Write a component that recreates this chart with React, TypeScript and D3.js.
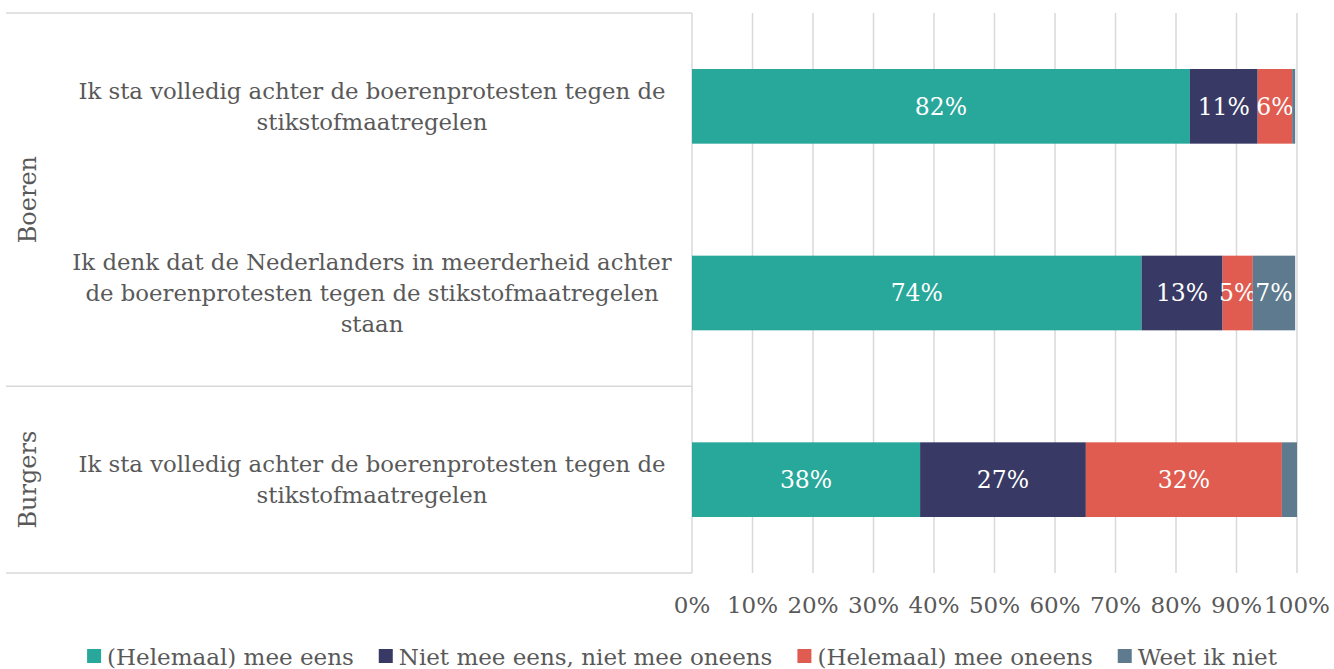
import React, { useEffect, useRef } from "react";
import * as d3 from "d3";

const groups = ["Boeren", "Boeren", "Burgers"];
const categoryLines = [
  ["Ik sta volledig achter de boerenprotesten tegen de", "stikstofmaatregelen"],
  ["Ik denk dat de Nederlanders in meerderheid achter", "de boerenprotesten tegen de stikstofmaatregelen", "staan"],
  ["Ik sta volledig achter de boerenprotesten tegen de", "stikstofmaatregelen"],
];
const seriesNames = ["(Helemaal) mee eens", "Niet mee eens, niet mee oneens", "(Helemaal) mee oneens", "Weet ik niet"];
const eens = [82.3, 74.3, 37.7];
const neutraal = [11.2, 13.4, 27.4];
const oneens = [5.7, 5.0, 32.4];
const weetNiet = [0.5, 7.0, 2.5];
const tickValues = [0, 10, 20, 30, 40, 50, 60, 70, 80, 90, 100];
const colors = ["#28a79b", "#383a65", "#e05c51", "#5d7a8e"];

const W = 1334;
const H = 669;
const FONT = "'DejaVu Serif', serif";
const TEXT = "#595959";
const GRID = "#d9d9d9";

export default function App() {
  const ref = useRef<SVGSVGElement>(null);
  useEffect(() => {
    const svg = d3.select(ref.current);
    svg.selectAll("*").remove();

    const left = 692, right = 1297, top = 13, bottom = 573, frameLeft = 6;
    const x = d3.scaleLinear().domain([0, 100]).range([left, right]);
    const idx = d3.range(categoryLines.length).map(String);
    const y = d3.scaleBand().domain(idx).range([top, bottom]).paddingInner(0.6).paddingOuter(0.3);
    const step = y.step();

    // gridlines
    svg.append("g").selectAll("line").data(tickValues.slice(1)).join("line")
      .attr("x1", (d) => x(d)).attr("x2", (d) => x(d))
      .attr("y1", top).attr("y2", bottom)
      .attr("stroke", GRID).attr("stroke-width", 1.5);

    // frame on the left (category table)
    const frame = svg.append("g").attr("stroke", GRID).attr("stroke-width", 1.5);
    const sepYs = [top, top + 2 * step, bottom];
    sepYs.forEach((yy) => frame.append("line").attr("x1", frameLeft).attr("x2", left).attr("y1", yy).attr("y2", yy));
    frame.append("line").attr("x1", left).attr("x2", left).attr("y1", top).attr("y2", bottom);

    // stacked bars
    const rows = idx.map((k, i) => ({ k, vals: [eens[i], neutraal[i], oneens[i], weetNiet[i]] }));
    const stackKeys = [0, 1, 2, 3];
    const stacked = d3.stack<any, number>().keys(stackKeys as any).value((d: any, key: any) => d.vals[key])(rows as any);
    const barG = svg.append("g");
    stacked.forEach((s, si) => {
      const g = barG.append("g");
      g.selectAll("rect").data(s).join("rect")
        .attr("x", (d: any) => x(d[0]))
        .attr("width", (d: any) => x(d[1]) - x(d[0]))
        .attr("y", (d: any) => y(d.data.k)!)
        .attr("height", y.bandwidth())
        .attr("fill", colors[si]);
      g.selectAll("text").data(s.filter((d: any) => d[1] - d[0] >= 3)).join("text")
        .attr("x", (d: any) => (x(d[0]) + x(d[1])) / 2)
        .attr("y", (d: any) => y(d.data.k)! + y.bandwidth() / 2)
        .attr("dy", "0.35em")
        .attr("text-anchor", "middle")
        .attr("fill", "#ffffff")
        .attr("font-family", FONT).attr("font-size", 23.5)
        .text((d: any) => `${Math.round(d[1] - d[0])}%`);
    });

    // category labels
    const lineH = 31;
    categoryLines.forEach((lines, i) => {
      const cy = y(String(i))! + y.bandwidth() / 2;
      const t = svg.append("text").attr("text-anchor", "middle")
        .attr("font-family", FONT).attr("font-size", 22.8).attr("fill", TEXT);
      lines.forEach((ln, j) => {
        t.append("tspan").attr("x", 372)
          .attr("y", cy + (j - (lines.length - 1) / 2) * lineH)
          .attr("dy", "0.35em").text(ln);
      });
    });

    // group labels
    const groupNames = Array.from(new Set(groups));
    groupNames.forEach((gname) => {
      const members = idx.filter((_, i) => groups[i] === gname);
      const y0 = y(members[0])! - y.paddingInner() * step / 2;
      const y1 = y(members[members.length - 1])! + y.bandwidth() + y.paddingInner() * step / 2;
      const cy = (Math.max(y0, top) + Math.min(y1, bottom)) / 2;
      svg.append("text").attr("transform", `translate(28,${cy}) rotate(-90)`)
        .attr("text-anchor", "middle").attr("dy", "0.35em")
        .attr("font-family", FONT).attr("font-size", 24).attr("fill", TEXT).text(gname);
    });

    // x axis tick labels
    svg.append("g").selectAll("text").data(tickValues).join("text")
      .attr("x", (d) => x(d)).attr("y", 613).attr("text-anchor", "middle")
      .attr("font-family", FONT).attr("font-size", 23).attr("fill", TEXT)
      .text((d) => `${d}%`);

    // legend
    const lg = svg.append("g");
    const items = seriesNames.map((name, i) => {
      const g = lg.append("g");
      g.append("rect").attr("x", 0).attr("y", -16).attr("width", 14).attr("height", 14).attr("fill", colors[i]);
      const t = g.append("text").attr("x", 20).attr("y", 0)
        .attr("font-family", FONT).attr("font-size", 23).attr("fill", TEXT).text(name);
      const w = 20 + (t.node() as SVGTextElement).getComputedTextLength();
      return { g, w };
    });
    const gap = 25;
    const total = d3.sum(items, (d) => d.w) + gap * (items.length - 1);
    let cx = 682 - total / 2;
    items.forEach((it) => {
      it.g.attr("transform", `translate(${cx},665)`);
      cx += it.w + gap;
    });
  }, []);
  return (
    <svg ref={ref} width={W} height={H} style={{ position: "absolute", left: 0, top: 0, background: "#fff" }} />
  );
}
